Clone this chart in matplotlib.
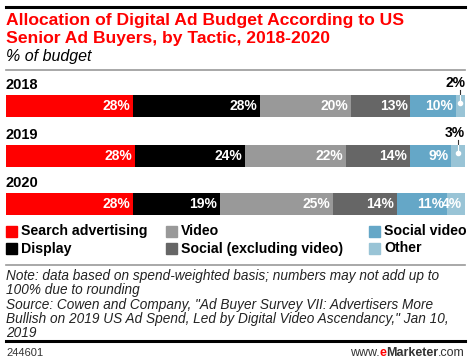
import numpy as np
import matplotlib.pyplot as plt
from matplotlib.patches import Rectangle
from matplotlib.lines import Line2D

# Data
years = ['2018', '2019', '2020']
tactics = ['Search advertising', 'Display', 'Video', 'Social (excluding video)',
           'Social video', 'Other']
search = [28, 28, 28]
display = [28, 24, 19]
video = [20, 22, 25]
social = [13, 14, 14]
social_video = [10, 9, 11]
other = [2, 3, 4]

colors = ['#ff0000', '#000000', '#999999', '#666666', '#65a7c7', '#99c4d6']
W, H = 470, 364
plt.rcParams['font.family'] = ['Liberation Sans', 'DejaVu Sans']

fig = plt.figure(figsize=(W / 100, H / 100), dpi=100)


def fy(y):
    return 1 - y / H


def fx(x):
    return x / W


def hline(y, color, lw):
    fig.add_artist(Line2D([fx(6), fx(465)], [fy(y), fy(y)], color=color, lw=lw))


# Header
hline(7, 'black', 2.2)
fig.text(fx(6), fy(21), 'Allocation of Digital Ad Budget According to US',
         color='#ff0000', fontsize=12.6, fontweight='bold', va='center')
fig.text(fx(6), fy(38), 'Senior Ad Buyers, by Tactic, 2018-2020',
         color='#ff0000', fontsize=12.6, fontweight='bold', va='center')
fig.text(fx(6), fy(56), '% of budget', fontsize=11.5, style='italic', va='center')
hline(70, '#999999', 1.2)

# Bars
ax = fig.add_axes([fx(6), fy(222), fx(459), (222 - 78) / H])
ax.set_xlim(0, 1)
ax.set_ylim(222, 78)
ax.axis('off')

series = np.array([search, display, video, social, social_video, other], dtype=float)
totals = series.sum(axis=0)
bar_y = [105.8, 156, 203.8]
bar_h = 21.5

for i, yr in enumerate(years):
    shares = series[:, i] / totals[i]
    lefts = np.concatenate([[0], np.cumsum(shares)[:-1]])
    ax.text(0, bar_y[i] - bar_h / 2 - 3, yr, fontsize=10.5, fontweight='bold',
            va='bottom', ha='left')
    for j in range(len(tactics)):
        ax.barh(bar_y[i], shares[j], left=lefts[j], height=bar_h,
                color=colors[j], linewidth=0)
        right = lefts[j] + shares[j]
        lab = '%d%%' % series[j, i]
        if series[j, i] < 4:
            # small slice: label above the bar with a pointer
            cx = lefts[j] + shares[j] / 2
            top = bar_y[i] - bar_h / 2
            ax.text(1.0, top - 5, lab, fontsize=10, fontweight='bold',
                    ha='right', va='bottom')
            ax.plot([cx, cx], [top - 5, top], color='#333333', lw=0.8)
            ax.plot([cx, cx], [top, top + 8], color='white', lw=0.8)
            ax.plot(cx, top + 8, 'o', color='white', ms=3)
        else:
            ax.text(right - 0.006, bar_y[i], lab, color='white', fontsize=10,
                    fontweight='bold', ha='right', va='center')

# Legend
leg_x = [6, 6, 166, 166, 369, 369]
leg_y = [231, 248.5, 231, 248.5, 231, 248.5]
for j, name in enumerate(tactics):
    fig.add_artist(Rectangle((fx(leg_x[j]), fy(leg_y[j] + 5.5)), fx(11), 11 / H,
                             color=colors[j], transform=fig.transFigure))
    fig.text(fx(leg_x[j] + 15), fy(leg_y[j]), name, fontsize=10.2,
             fontweight='bold', va='center')

hline(265, '#999999', 1.2)

notes = ['Note: data based on spend-weighted basis; numbers may not add up to',
         '100% due to rounding',
         'Source: Cowen and Company, "Ad Buyer Survey VII: Advertisers More',
         'Bullish on 2019 US Ad Spend, Led by Digital Video Ascendancy," Jan 10,',
         '2019']
for k, line in enumerate(notes):
    fig.text(fx(6), fy(276 + k * 14.3), line, fontsize=9.8, style='italic',
             va='center', color='#222222')

hline(341, 'black', 2.2)
fig.text(fx(6), fy(353), '244601', fontsize=8, va='center', color='#333333')

# footer url, drawn piece by piece from the right
r = fig.canvas.get_renderer()
x_right = fx(465)
pieces = [('.com', 'normal', '#333333'), ('Marketer', 'bold', '#333333'),
          ('e', 'bold', '#ff0000'), ('www.', 'normal', '#333333')]
for txt, wt, col in pieces:
    tt = fig.text(x_right, fy(353), txt, fontsize=9, fontweight=wt, color=col,
                  va='center', ha='right')
    bb = tt.get_window_extent(renderer=r)
    x_right -= bb.width / W

fig.savefig('out.png', dpi=100)
